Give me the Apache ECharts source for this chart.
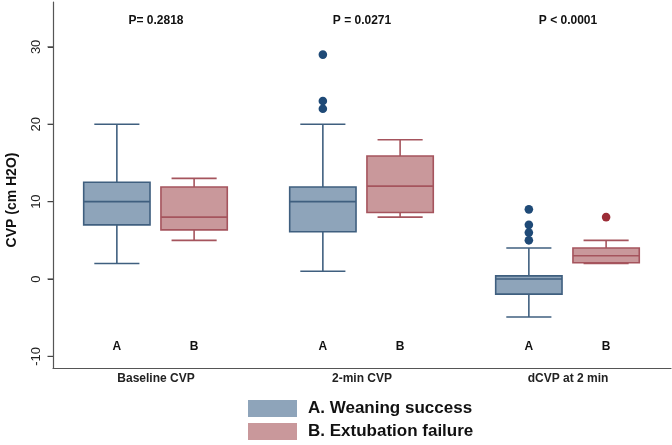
<!DOCTYPE html>
<html>
<head>
<meta charset="utf-8">
<script src="https://cdn.jsdelivr.net/npm/echarts@6/dist/echarts.min.js"></script>
<style>
html,body{margin:0;padding:0;background:#fff;}
#chart{width:672px;height:445px;}
</style>
</head>
<body>
<div id="chart"></div>
<script>
// ---- data ----
const categories = ["Baseline CVP", "2-min CVP", "dCVP at 2 min"];
const pValues = ["P= 0.2818", "P = 0.0271", "P < 0.0001"];
const groupNames = ["A. Weaning success", "B. Extubation failure"];
const groupLetters = ["A", "B"];
// [min, Q1, median, Q3, max] per category
const boxA = [
  [2, 7, 10, 12.5, 20],
  [1, 6.1, 10, 11.9, 20],
  [-4.9, -1.95, 0, 0.4, 4]
];
const boxB = [
  [5, 6.35, 8, 11.9, 13],
  [8, 8.6, 12, 15.9, 18],
  [2, 2.1, 3, 4, 5]
];
// outliers: [categoryIndex, value]
const outA = [[1, 29], [1, 23], [1, 22], [2, 9], [2, 7], [2, 6], [2, 5]];
const outB = [[2, 8]];
const yTicks = [-10, 0, 10, 20, 30];

// ---- styles ----
const styleA = { fill: '#8ea4ba', stroke: '#3f5f7f', dot: '#1f4a77', offset: -0.19 };
const styleB = { fill: '#c9989b', stroke: '#a5545d', dot: '#9c2d37', offset: 0.185 };

function boxRenderer(st, letter) {
  return function (params, api) {
    const cat = api.value(0);
    const band = api.size([1, 0])[0];
    const cx = api.coord([cat, 0])[0] + st.offset * band;
    const w = band * 0.322;
    const cap = w * 0.68;
    const y = [1, 2, 3, 4, 5].map(i => api.coord([cat, api.value(i)])[1]);
    const cs = params.coordSys;
    const ls = { stroke: st.stroke, lineWidth: 1.6 };
    const children = [
      { type: 'line', shape: { x1: cx, y1: y[3], x2: cx, y2: y[4] }, style: ls },
      { type: 'line', shape: { x1: cx, y1: y[1], x2: cx, y2: y[0] }, style: ls },
      { type: 'line', shape: { x1: cx - cap / 2, y1: y[4], x2: cx + cap / 2, y2: y[4] }, style: ls },
      { type: 'line', shape: { x1: cx - cap / 2, y1: y[0], x2: cx + cap / 2, y2: y[0] }, style: ls },
      { type: 'rect', shape: { x: cx - w / 2, y: y[3], width: w, height: y[1] - y[3] },
        style: { fill: st.fill, stroke: st.stroke, lineWidth: 1.6 } },
      { type: 'line', shape: { x1: cx - w / 2, y1: y[2], x2: cx + w / 2, y2: y[2] }, style: ls },
      { type: 'text', style: { text: letter, x: cx, y: cs.y + cs.height - 21, align: 'center', verticalAlign: 'middle',
        font: 'bold 12px "Liberation Sans", Arial, sans-serif', fill: '#111' } }
    ];
    return { type: 'group', children: children };
  };
}

function outlierRenderer(st) {
  return function (params, api) {
    const cat = api.value(0);
    const band = api.size([1, 0])[0];
    const p = api.coord([cat, api.value(1)]);
    return { type: 'circle', shape: { cx: p[0] + st.offset * band, cy: p[1], r: 4.3 }, style: { fill: st.dot } };
  };
}

const chart = echarts.init(document.getElementById('chart'), null, { renderer: 'canvas' });
const font = '"Liberation Sans", Arial, sans-serif';
const legendBase = {
  orient: 'vertical',
  left: 248,
  itemWidth: 49, itemHeight: 17, itemGap: 6,
  icon: 'rect',
  selectedMode: false,
  padding: 0,
  textStyle: { fontFamily: font, fontWeight: 'bold', fontSize: 17, color: '#111', padding: [0, 0, 0, 6] }
};
chart.setOption({
  backgroundColor: '#ffffff',
  animation: false,
  grid: { left: 53, right: 1, top: 2, bottom: 77, containLabel: false, outerBoundsMode: 'none' },
  legend: [
    Object.assign({}, legendBase, {
      top: 400,
      data: [{ name: groupNames[0], itemStyle: { color: styleA.fill, borderWidth: 0 } }]
    }),
    Object.assign({}, legendBase, {
      top: 423,
      data: [{ name: groupNames[1], itemStyle: { color: styleB.fill, borderWidth: 0 } }]
    })
  ],
  xAxis: {
    type: 'category',
    data: categories,
    axisLine: { onZero: false, lineStyle: { color: '#555', width: 1.2 } },
    axisTick: { show: false },
    axisLabel: { fontFamily: font, fontWeight: 'bold', fontSize: 12, color: '#222', margin: 5 }
  },
  yAxis: {
    type: 'value',
    min: -11.5, max: 35.8,
    name: 'CVP (cm H2O)',
    nameLocation: 'middle',
    nameGap: 34,
    nameTextStyle: { fontFamily: font, fontWeight: 'bold', fontSize: 14, color: '#111', padding: [0, 30, 0, 0] },
    splitLine: { show: false },
    axisLine: { show: true, onZero: false, lineStyle: { color: '#555', width: 1.2 } },
    axisTick: { show: true, inside: false, length: 5, lineStyle: { color: '#444', width: 1 }, customValues: yTicks },
    axisLabel: { rotate: 90, fontFamily: font, fontSize: 13, color: '#222', margin: 10, customValues: yTicks }
  },
  series: [
    {
      type: 'custom', name: groupNames[0], itemStyle: { color: styleA.fill },
      renderItem: boxRenderer(styleA, groupLetters[0]),
      encode: { x: 0, y: [1, 2, 3, 4, 5] },
      data: boxA.map((b, i) => [i].concat(b))
    },
    {
      type: 'custom', name: groupNames[1], itemStyle: { color: styleB.fill },
      renderItem: boxRenderer(styleB, groupLetters[1]),
      encode: { x: 0, y: [1, 2, 3, 4, 5] },
      data: boxB.map((b, i) => [i].concat(b))
    },
    {
      type: 'custom', name: 'A outliers', renderItem: outlierRenderer(styleA),
      encode: { x: 0, y: 1 }, data: outA
    },
    {
      type: 'custom', name: 'B outliers', renderItem: outlierRenderer(styleB),
      encode: { x: 0, y: 1 }, data: outB
    },
    {
      type: 'custom', name: 'y ticks', clip: false,
      renderItem: function (params, api) {
        const cs = params.coordSys;
        const y = api.coord([0, api.value(1)])[1];
        return { type: 'line', shape: { x1: cs.x - 5.5, y1: y, x2: cs.x, y2: y }, style: { stroke: '#444', lineWidth: 1.2 } };
      },
      encode: { x: 0, y: 1 },
      data: yTicks.map(t => [0, t])
    },
    {
      type: 'custom', name: 'P values',
      renderItem: function (params, api) {
        const cat = api.value(0);
        const x = api.coord([cat, 0])[0];
        const cs = params.coordSys;
        return { type: 'text', style: { text: pValues[cat], x: x, y: cs.y + 19, align: 'center', verticalAlign: 'middle',
          font: 'bold 12px ' + font, fill: '#111' } };
      },
      encode: { x: 0, y: 1 },
      data: categories.map((c, i) => [i, 0])
    }
  ]
});
</script>
</body>
</html>
